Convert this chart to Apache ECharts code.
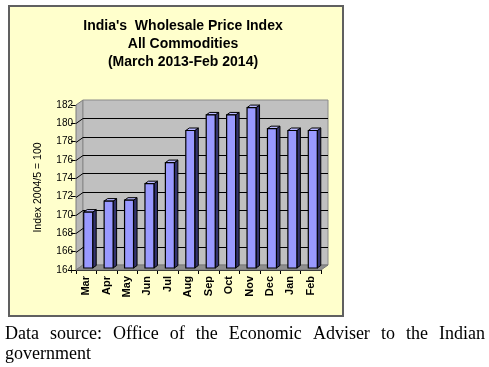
<!DOCTYPE html>
<html>
<head>
<meta charset="utf-8">
<script src="https://cdn.jsdelivr.net/npm/echarts@6/dist/echarts.min.js"></script>
<style>
html,body{margin:0;padding:0;background:#fff;}
#c{width:489px;height:367px;}
</style>
</head>
<body>
<div id="c"></div>
<script>
const months = ['Mar','Apr','May','Jun','Jul','Aug','Sep','Oct','Nov','Dec','Jan','Feb'];
const wpi = [170.1, 171.3, 171.4, 173.2, 175.5, 179.0, 180.7, 180.7, 181.5, 179.2, 179.0, 179.0];
const yTicks = [164,166,168,170,172,174,176,178,180,182];
const titleLines = ["India's  Wholesale Price Index", 'All Commodities', '(March 2013-Feb 2014)'];
const yAxisName = 'Index 2004/5 = 100';
const captionLine1 = 'Data source: Office of the Economic Adviser to the Indian';
const captionLine2 = 'government';

const yMin = yTicks[0], yMax = yTicks[yTicks.length-1];
const WALL_DX = 7, WALL_DY = -5;

const chart = echarts.init(document.getElementById('c'), null, {renderer:'canvas'});

// justified caption line
const capFont = '18px "Liberation Serif", "Times New Roman", serif';
const cv = document.createElement('canvas').getContext('2d');
cv.font = capFont;
const words = captionLine1.split(' ');
const widths = words.map(w => cv.measureText(w).width);
const totalW = widths.reduce((a,b)=>a+b,0);
const capLeft = 5, capRight = 485;
const gap = (capRight - capLeft - totalW) / (words.length - 1);
const capEls = [];
let cx = capLeft;
words.forEach((w,i) => {
  capEls.push({type:'text', x:cx, y:334, silent:true,
    style:{text:w, font:capFont, fill:'#000', verticalAlign:'middle', align:'left'}});
  cx += widths[i] + gap;
});
capEls.push({type:'text', x:capLeft, y:354, silent:true,
  style:{text:captionLine2, font:capFont, fill:'#000', verticalAlign:'middle', align:'left'}});

function renderWalls(params, api){
  const cs = params.coordSys;
  const x0 = cs.x, x1 = cs.x + cs.width, yT = cs.y, yB = cs.y + cs.height;
  const dx = WALL_DX, dy = WALL_DY;
  const children = [];
  children.push({type:'polygon', shape:{points:[[x0,yT],[x0+dx,yT+dy],[x0+dx,yB+dy],[x0,yB]]},
    style:{fill:'#b8b8b8', stroke:'#7a7a7a', lineWidth:1}});
  children.push({type:'rect', shape:{x:x0+dx, y:yT+dy, width:x1-x0, height:yB-yT},
    style:{fill:'#c0c0c0', stroke:'#8a8a8a', lineWidth:1}});
  yTicks.forEach(v => {
    if (v === yMin || v === yMax) return;
    const y = Math.round(api.coord([0, v])[1]) + 0.5;
    children.push({type:'line', shape:{x1:x0, y1:y, x2:x0+dx, y2:y+dy},
      style:{stroke:'#000', lineWidth:1}});
    children.push({type:'line', shape:{x1:x0+dx, y1:y+dy, x2:x1+dx, y2:y+dy},
      style:{stroke:'#000', lineWidth:1}});
  });
  children.push({type:'polygon', shape:{points:[[x0,yB],[x0+dx,yB+dy],[x1+dx,yB+dy],[x1,yB]]},
    style:{fill:'#8e8e8e', stroke:'#7a7a7a', lineWidth:1}});
  return {type:'group', children};
}

function renderBar(params, api){
  const idx = api.value(0), v = api.value(1);
  const top = api.coord([idx, v]);
  const base = api.coord([idx, yMin]);
  const w = api.size([1,0])[0] * 0.44;
  const bx = 2, by = -2, d = 3.5, dv = -2.5;
  const l = top[0] - w/2 + bx, r = l + w, t = top[1] + by, b = base[1] + by;
  return {type:'group', children:[
    {type:'polygon', shape:{points:[[r,t],[r+d,t+dv],[r+d,b+dv],[r,b]]},
      style:{fill:'#33336e', stroke:'#000', lineWidth:1}},
    {type:'polygon', shape:{points:[[l,t],[l+d,t+dv],[r+d,t+dv],[r,t]]},
      style:{fill:'#b8b8ff', stroke:'#000', lineWidth:1}},
    {type:'rect', shape:{x:l, y:t, width:w, height:b-t},
      style:{fill:'#9999ff', stroke:'#000', lineWidth:1.2}}
  ]};
}

const option = {
  animation:false,
  backgroundColor:'#ffffff',
  title:{
    text: titleLines.join('\n'),
    left:178, top:12, textAlign:'center',
    textStyle:{fontFamily:'Arial, "Liberation Sans", sans-serif', fontWeight:'bold', fontSize:14, lineHeight:18, color:'#000'}
  },
  graphic:[
    {type:'rect', z:-10, silent:true, shape:{x:9, y:6, width:334, height:310},
      style:{fill:'#ffffcc', stroke:'#606060', lineWidth:2}}
  ].concat(capEls),
  grid:{left:76, top:105, width:245, height:165, containLabel:false},
  xAxis:{
    type:'category', data:months, boundaryGap:true,
    axisLine:{lineStyle:{color:'#000', width:1}},
    axisTick:{show:true, length:4, lineStyle:{color:'#000'}},
    axisLabel:{rotate:90, margin:6, fontFamily:'Arial, "Liberation Sans", sans-serif', fontWeight:'bold', fontSize:11, color:'#000', interval:0},
    splitLine:{show:false}
  },
  yAxis:{
    type:'value', min:yMin, max:yMax, interval:2,
    name:yAxisName, nameLocation:'middle', nameGap:32, nameRotate:90,
    nameTextStyle:{fontFamily:'Arial, "Liberation Sans", sans-serif', fontSize:10.5, color:'#000'},
    axisLine:{show:true, lineStyle:{color:'#000', width:1}},
    axisTick:{show:true, length:5, lineStyle:{color:'#000'}},
    axisLabel:{fontFamily:'Arial, "Liberation Sans", sans-serif', fontSize:10, color:'#000', margin:3},
    splitLine:{show:false}
  },
  series:[
    {type:'custom', name:'walls', renderItem:renderWalls, data:[[0, yMin]], z:1, silent:true, clip:false},
    {type:'custom', name:'WPI', renderItem:renderBar,
      data: wpi.map((v,i)=>[i, v]), encode:{x:0, y:1}, z:3, clip:false}
  ]
};
chart.setOption(option);
</script>
</body>
</html>
